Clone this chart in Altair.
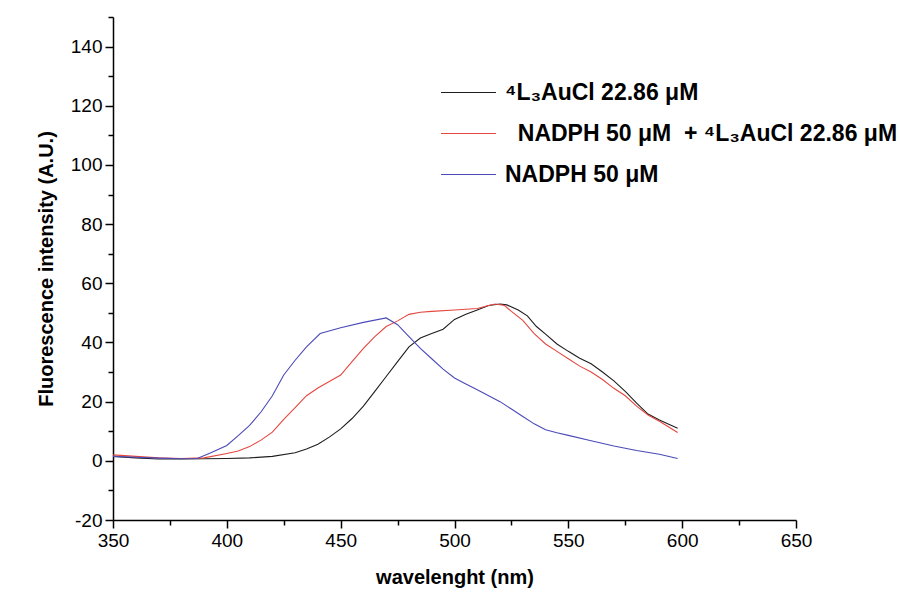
import altair as alt
import pandas as pd

# ---- data ----
series_labels = [
    "⁴L₃AuCl 22.86 μM",
    "\u200b\u00a0\u00a0NADPH 50 μM\u00a0 + ⁴L₃AuCl 22.86 μM",
    "NADPH 50 μM",
]
series_colors = ["#1e1e1e", "#e5473f", "#4a4ab8"]

black_wl = [350, 360, 370, 380, 390, 400, 410, 420, 430, 435, 440, 445, 450, 455, 460, 465, 470,
            475, 480, 485, 490, 495, 500, 505, 510, 515, 520, 523, 528, 532, 536, 540, 545, 550,
            555, 560, 565, 570, 575, 580, 585, 590, 598]
black_y = [1.5, 1.0, 0.6, 0.6, 0.7, 0.8, 1.0, 1.5, 2.7, 4.0, 5.6, 8.0, 10.8, 14.3, 18.5, 23.5, 28.5,
           33.5, 38.5, 41.5, 43.0, 44.5, 47.8, 49.5, 51.0, 52.5, 53.0, 52.7, 51.0, 49.0, 45.4, 42.8,
           39.5, 37.0, 34.7, 32.8, 30.0, 27.0, 23.5, 19.5, 15.8, 13.8, 11.0]

red_wl = [350, 360, 370, 380, 390, 400, 405, 410, 415, 420, 425, 430, 435, 440, 445, 450, 455, 460,
          465, 470, 475, 480, 485, 490, 500, 510, 515, 518, 522, 525, 530, 535, 540, 545, 550, 555,
          560, 565, 570, 575, 580, 585, 590, 598]
red_y = [2.0, 1.5, 1.0, 0.8, 1.0, 2.5, 3.3, 4.8, 7.0, 9.7, 14.0, 18.0, 22.0, 24.6, 26.8, 29.0, 33.5,
         38.0, 42.0, 45.4, 47.3, 49.5, 50.2, 50.5, 51.0, 51.5, 52.5, 53.0, 52.5, 50.5, 47.5, 43.0,
         39.5, 37.0, 34.5, 32.0, 30.0, 27.5, 24.5, 22.0, 18.5, 15.5, 13.4, 9.6]

blue_wl = [350, 360, 370, 380, 387, 393, 400, 405, 410, 415, 420, 425, 430, 435, 441, 450, 460, 470,
           475, 480, 485, 490, 495, 500, 505, 510, 515, 520, 525, 530, 535, 540, 545, 550, 560, 570,
           580, 590, 598]
blue_y = [1.5, 1.2, 0.9, 0.7, 0.8, 2.7, 5.2, 8.5, 12.0, 16.5, 22.0, 29.0, 34.0, 38.5, 43.0, 45.0,
          46.8, 48.3, 46.0, 42.0, 38.0, 34.5, 31.0, 28.0, 26.0, 24.0, 22.0, 20.0, 17.5, 15.0, 12.5,
          10.5, 9.5, 8.6, 6.8, 5.0, 3.5, 2.2, 0.8]

x_major = [350, 400, 450, 500, 550, 600, 650]
x_minor = [375, 425, 475, 525, 575, 625]
y_major = [-20, 0, 20, 40, 60, 80, 100, 120, 140]
y_minor = [-10, 10, 30, 50, 70, 90, 110, 130, 150]

rows = []
for lab, wl, ys in zip(series_labels, [black_wl, red_wl, blue_wl], [black_y, red_y, blue_y]):
    for i, (w, v) in enumerate(zip(wl, ys)):
        rows.append({"series": lab, "wl": w, "val": v, "order": i})
df = pd.DataFrame(rows)

FONT = "Liberation Sans"
xscale = alt.Scale(domain=[350, 650], nice=False, zero=False)
yscale = alt.Scale(domain=[-20, 150], nice=False, zero=False)

major_x = alt.Axis(values=x_major, orient="bottom", title="wavelenght (nm)", grid=False,
                   tickSize=8, tickWidth=1.5, tickColor="black", domainColor="black",
                   domainWidth=1.5, labelFont=FONT, labelFontSize=19, labelColor="black",
                   labelPadding=3, titleFont=FONT, titleFontSize=20, titleFontWeight="bold",
                   titleColor="black", titlePadding=17, labelFlush=False,
                   labelExpr="'' + datum.value")
major_y = alt.Axis(values=y_major, orient="left", title="Fluorescence intensity (A.U.)", grid=False,
                   tickSize=8, tickWidth=1.5, tickColor="black", domainColor="black",
                   domainWidth=1.5, labelFont=FONT, labelFontSize=19, labelColor="black",
                   labelPadding=3, titleFont=FONT, titleFontSize=20, titleFontWeight="bold",
                   titleColor="black", titlePadding=14, labelExpr="'' + datum.value")
minor_x = alt.Axis(values=x_minor, orient="bottom", title=None, labels=False, grid=False,
                   tickSize=5, tickWidth=1.5, tickColor="black", domain=False)
minor_y = alt.Axis(values=y_minor, orient="left", title=None, labels=False, grid=False,
                   tickSize=5, tickWidth=1.5, tickColor="black", domain=False)

lines = alt.Chart(df).mark_line(strokeWidth=1.1).encode(
    x=alt.X("wl:Q", scale=xscale, axis=major_x),
    y=alt.Y("val:Q", scale=yscale, axis=major_y),
    order="order:Q",
    color=alt.Color("series:N",
                    scale=alt.Scale(domain=series_labels, range=series_colors),
                    legend=alt.Legend(title=None, orient="none", legendX=327, legendY=47,
                                      symbolType="stroke", symbolSize=3025, symbolStrokeWidth=1.1,
                                      labelFont=FONT, labelFontSize=23, labelFontWeight="bold",
                                      labelColor="black", labelLimit=0, labelOffset=8,
                                      rowPadding=-13, padding=0)),
)

minor = alt.Chart(df).mark_line(opacity=0).encode(
    x=alt.X("wl:Q", scale=xscale, axis=minor_x),
    y=alt.Y("val:Q", scale=yscale, axis=minor_y),
    detail="series:N",
)

chart = alt.layer(minor, lines).resolve_axis(x="independent", y="independent").properties(
    width=683, height=503,
    autosize=alt.AutoSizeParams(type="none"),
    padding={"left": 113, "top": 17, "right": 104, "bottom": 77},
).configure_view(stroke=None)

chart.save("out.html", embed_options={"renderer": "svg", "actions": False})
